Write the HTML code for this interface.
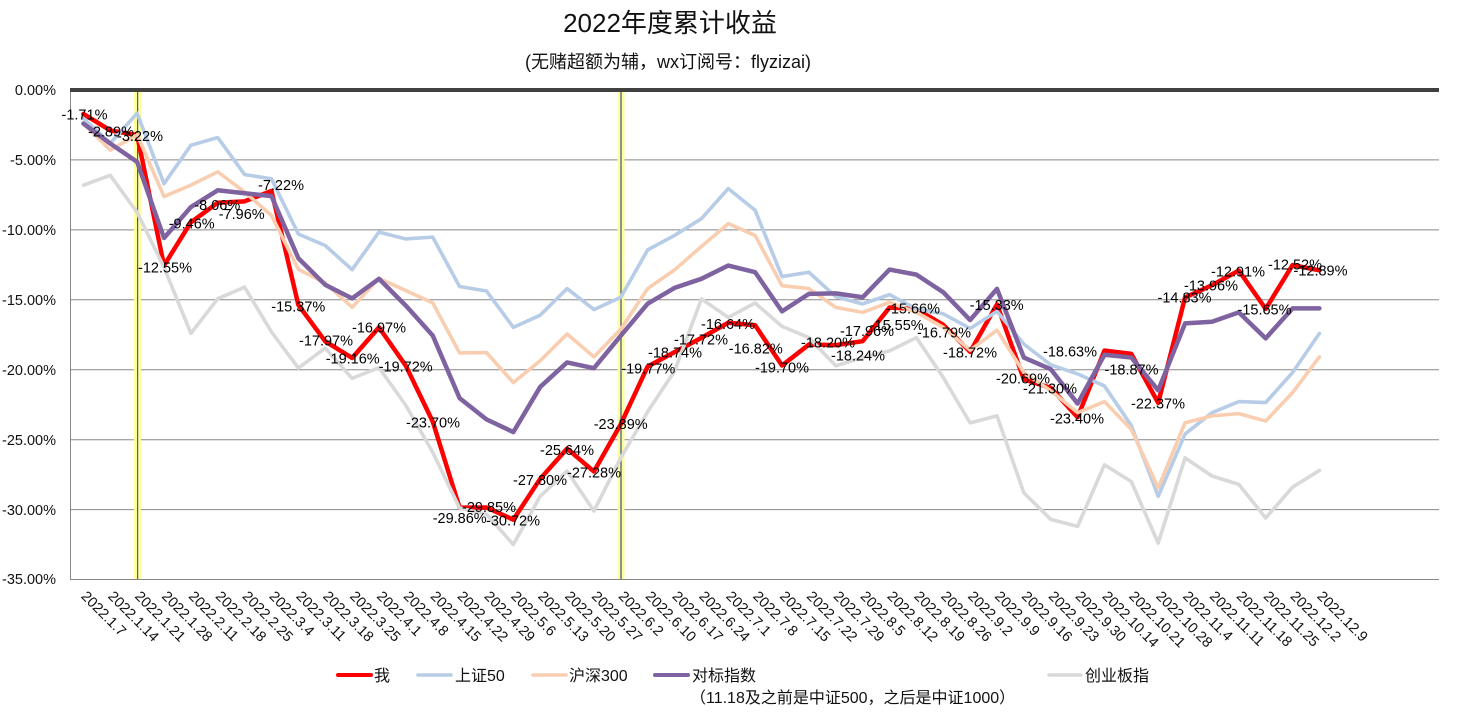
<!DOCTYPE html>
<html><head><meta charset="utf-8"><style>
html,body{margin:0;padding:0;background:#fff;}
svg{display:block;}
.t{font-family:"Liberation Sans","Noto Sans CJK SC",sans-serif;}
</style></head><body>
<svg width="1473" height="713" viewBox="0 0 1473 713" xmlns="http://www.w3.org/2000/svg" class="t" font-family="'Liberation Sans','Noto Sans CJK SC',sans-serif">
<rect width="1473" height="713" fill="#fff"/>
<!-- title -->
<text x="670" y="32" font-size="26" text-anchor="middle" fill="#111">2022年度累计收益</text>
<text x="668" y="68" font-size="18" text-anchor="middle" fill="#111">(无赌超额为辅，wx订阅号：flyzizai)</text>

<!-- gridlines -->
<g stroke="#888" stroke-width="1">
<line x1="70" y1="159.9" x2="1439" y2="159.9"/>
<line x1="70" y1="229.9" x2="1439" y2="229.9"/>
<line x1="70" y1="299.8" x2="1439" y2="299.8"/>
<line x1="70" y1="369.7" x2="1439" y2="369.7"/>
<line x1="70" y1="439.7" x2="1439" y2="439.7"/>
<line x1="70" y1="509.6" x2="1439" y2="509.6"/>
<line x1="70" y1="579.5" x2="1439" y2="579.5"/>
<line x1="70.5" y1="90" x2="70.5" y2="579.5"/>
</g>
<line x1="70" y1="90" x2="1439" y2="90" stroke="#404040" stroke-width="4"/>

<!-- yellow markers -->
<rect x="134" y="92" width="7" height="487" fill="#FFFF9E"/>
<rect x="617.5" y="92" width="7" height="487" fill="#FFFF9E"/>
<line x1="137.6" y1="92" x2="137.6" y2="579" stroke="#3B5BA8" stroke-width="1.2"/>
<line x1="621" y1="92" x2="621" y2="579" stroke="#3B4F80" stroke-width="1.2"/>

<!-- y axis labels -->
<g font-size="14.5" text-anchor="end" fill="#111">
<text x="56" y="95">0.00%</text>
<text x="56" y="165">-5.00%</text>
<text x="56" y="235">-10.00%</text>
<text x="56" y="305">-15.00%</text>
<text x="56" y="375">-20.00%</text>
<text x="56" y="445">-25.00%</text>
<text x="56" y="515">-30.00%</text>
<text x="56" y="584">-35.00%</text>
</g>

<!-- series -->
<g transform="translate(83.4,90) scale(26.87,13.986)" fill="none" stroke-linejoin="round" stroke-linecap="round">
<polyline vector-effect="non-scaling-stroke" stroke="#FF0000" stroke-width="4.5" points="0,1.71 1,2.89 2,3.22 3,12.55 4,9.46 5,8.06 6,7.96 7,7.22 8,15.37 9,17.97 10,19.16 11,16.97 12,19.72 13,23.70 14,29.86 15,29.85 16,30.72 17,27.80 18,25.64 19,27.28 20,23.89 21,19.77 22,18.74 23,17.72 24,16.64 25,16.82 26,19.70 27,18.20 28,18.24 29,17.96 30,15.55 31,15.66 32,16.79 33,18.72 34,15.33 35,20.69 36,21.30 37,23.40 38,18.63 39,18.87 40,22.37 41,14.83 42,13.96 43,12.91 44,15.65 45,12.52 46,12.89"/>
<polyline vector-effect="non-scaling-stroke" stroke="#B7CCE6" stroke-width="3.6" points="0,2.03 1,3.8 2,1.66 3,6.7 4,3.95 5,3.4 6,6.05 7,6.35 8,10.3 9,11.12 10,12.85 11,10.16 12,10.65 13,10.52 14,14.05 15,14.37 16,16.97 17,16.1 18,14.2 19,15.7 20,14.82 21,11.43 22,10.4 23,9.2 24,7.05 25,8.6 26,13.34 27,13.03 28,14.78 29,15.3 30,14.63 31,15.66 32,16.0 33,17.05 34,15.83 35,18.17 36,19.65 37,20.3 38,21.16 39,24.0 40,29.05 41,24.6 42,23.07 43,22.28 44,22.35 45,20.2 46,17.4"/>
<polyline vector-effect="non-scaling-stroke" stroke="#F9CEB0" stroke-width="3.6" points="0,2.4 1,4.3 2,3.2 3,7.62 4,6.8 5,5.85 6,7.3 7,8.97 8,12.82 9,13.8 10,15.54 11,13.47 12,14.34 13,15.22 14,18.8 15,18.77 16,20.92 17,19.36 18,17.45 19,19.08 20,17.1 21,14.2 22,12.86 23,11.19 24,9.56 25,10.4 26,13.99 27,14.2 28,15.54 29,15.9 30,15.18 31,15.9 32,16.97 33,18.6 34,17.17 35,20.2 36,21.5 37,23.07 38,22.28 39,24.27 40,28.45 41,23.79 42,23.3 43,23.14 44,23.67 45,21.64 46,19.08"/>
<polyline vector-effect="non-scaling-stroke" stroke="#7F63A1" stroke-width="4.5" points="0,2.4 1,3.83 2,5.14 3,10.58 4,8.37 5,7.17 6,7.38 7,7.59 8,12.03 9,13.93 10,14.9 11,13.5 12,15.42 13,17.55 14,22.03 15,23.55 16,24.46 17,21.23 18,19.48 19,19.89 20,17.57 21,15.28 22,14.15 23,13.5 24,12.55 25,13.03 26,15.83 27,14.58 28,14.54 29,14.82 30,12.84 31,13.2 32,14.46 33,16.45 34,14.22 35,19.13 36,19.96 37,22.42 38,18.93 39,19.13 40,21.47 41,16.69 42,16.57 43,15.9 44,17.76 45,15.61 46,15.61"/>
<polyline vector-effect="non-scaling-stroke" stroke="#D9D9D9" stroke-width="3.6" points="0,6.81 1,6.1 2,8.75 3,12.68 4,17.4 5,14.92 6,14.1 7,17.3 8,19.88 9,18.45 10,20.62 11,19.85 12,22.55 13,25.9 14,29.89 15,30.33 16,32.5 17,29.05 18,27.25 19,30.1 20,26.3 21,23.0 22,20.1 23,14.94 24,16.26 25,15.23 26,16.9 27,17.7 28,19.72 29,19.13 30,18.65 31,17.7 32,20.56 33,23.8 34,23.3 35,28.8 36,30.7 37,31.2 38,26.8 39,28.0 40,32.4 41,26.3 42,27.6 43,28.2 44,30.6 45,28.4 46,27.2"/>
</g>

<!-- data labels -->
<g font-size="14.5" text-anchor="middle" fill="#000">
<text x="84.5" y="119.3">-1.71%</text>
<text x="111" y="136.7">-2.89%</text>
<text x="140" y="141">-3.22%</text>
<text x="165" y="272.3">-12.55%</text>
<text x="191.7" y="228.3">-9.46%</text>
<text x="217.3" y="210">-8.06%</text>
<text x="241.7" y="219">-7.96%</text>
<text x="281" y="190">-7.22%</text>
<text x="298.3" y="311.7">-15.37%</text>
<text x="326" y="345.7">-17.97%</text>
<text x="352.7" y="363.3">-19.16%</text>
<text x="379" y="332.7">-16.97%</text>
<text x="405.7" y="371.7">-19.72%</text>
<text x="433" y="427.3">-23.70%</text>
<text x="459.7" y="523">-29.86%</text>
<text x="489" y="512">-29.85%</text>
<text x="513" y="525.7">-30.72%</text>
<text x="540" y="485">-27.80%</text>
<text x="567" y="455">-25.64%</text>
<text x="594" y="477.7">-27.28%</text>
<text x="620.7" y="429">-23.89%</text>
<text x="648.3" y="373.7">-19.77%</text>
<text x="675" y="357.7">-18.74%</text>
<text x="701" y="344.3">-17.72%</text>
<text x="728" y="329">-16.64%</text>
<text x="755.8" y="353.3">-16.82%</text>
<text x="782" y="372.3">-19.70%</text>
<text x="828" y="347.3">-18.20%</text>
<text x="858" y="360.3">-18.24%</text>
<text x="867" y="336">-17.96%</text>
<text x="896.7" y="330">-15.55%</text>
<text x="913" y="313.3">-15.66%</text>
<text x="944" y="337.7">-16.79%</text>
<text x="970" y="357.7">-18.72%</text>
<text x="996.7" y="310">-15.33%</text>
<text x="1023" y="383.3">-20.69%</text>
<text x="1050" y="393.3">-21.30%</text>
<text x="1077" y="423.3">-23.40%</text>
<text x="1070" y="356.7">-18.63%</text>
<text x="1131.5" y="374.3">-18.87%</text>
<text x="1158" y="408.3">-22.37%</text>
<text x="1184.5" y="302.3">-14.83%</text>
<text x="1211" y="290.7">-13.96%</text>
<text x="1238" y="276.7">-12.91%</text>
<text x="1264.5" y="314.3">-15.65%</text>
<text x="1295" y="269.3">-12.52%</text>
<text x="1320.5" y="275.7">-12.89%</text>
</g>

<!-- x axis labels -->
<g font-size="14.5" fill="#111">
<text transform="translate(80.4,597) rotate(45)">2022.1.7</text>
<text transform="translate(107.3,597) rotate(45)">2022.1.14</text>
<text transform="translate(134.1,597) rotate(45)">2022.1.21</text>
<text transform="translate(161.0,597) rotate(45)">2022.1.28</text>
<text transform="translate(187.9,597) rotate(45)">2022.2.11</text>
<text transform="translate(214.8,597) rotate(45)">2022.2.18</text>
<text transform="translate(241.6,597) rotate(45)">2022.2.25</text>
<text transform="translate(268.5,597) rotate(45)">2022.3.4</text>
<text transform="translate(295.4,597) rotate(45)">2022.3.11</text>
<text transform="translate(322.2,597) rotate(45)">2022.3.18</text>
<text transform="translate(349.1,597) rotate(45)">2022.3.25</text>
<text transform="translate(376.0,597) rotate(45)">2022.4.1</text>
<text transform="translate(402.8,597) rotate(45)">2022.4.8</text>
<text transform="translate(429.7,597) rotate(45)">2022.4.15</text>
<text transform="translate(456.6,597) rotate(45)">2022.4.22</text>
<text transform="translate(483.5,597) rotate(45)">2022.4.29</text>
<text transform="translate(510.3,597) rotate(45)">2022.5.6</text>
<text transform="translate(537.2,597) rotate(45)">2022.5.13</text>
<text transform="translate(564.1,597) rotate(45)">2022.5.20</text>
<text transform="translate(590.9,597) rotate(45)">2022.5.27</text>
<text transform="translate(617.8,597) rotate(45)">2022.6.2</text>
<text transform="translate(644.7,597) rotate(45)">2022.6.10</text>
<text transform="translate(671.5,597) rotate(45)">2022.6.17</text>
<text transform="translate(698.4,597) rotate(45)">2022.6.24</text>
<text transform="translate(725.3,597) rotate(45)">2022.7.1</text>
<text transform="translate(752.2,597) rotate(45)">2022.7.8</text>
<text transform="translate(779.0,597) rotate(45)">2022.7.15</text>
<text transform="translate(805.9,597) rotate(45)">2022.7.22</text>
<text transform="translate(832.8,597) rotate(45)">2022.7.29</text>
<text transform="translate(859.6,597) rotate(45)">2022.8.5</text>
<text transform="translate(886.5,597) rotate(45)">2022.8.12</text>
<text transform="translate(913.4,597) rotate(45)">2022.8.19</text>
<text transform="translate(940.2,597) rotate(45)">2022.8.26</text>
<text transform="translate(967.1,597) rotate(45)">2022.9.2</text>
<text transform="translate(994.0,597) rotate(45)">2022.9.9</text>
<text transform="translate(1020.9,597) rotate(45)">2022.9.16</text>
<text transform="translate(1047.7,597) rotate(45)">2022.9.23</text>
<text transform="translate(1074.6,597) rotate(45)">2022.9.30</text>
<text transform="translate(1101.5,597) rotate(45)">2022.10.14</text>
<text transform="translate(1128.3,597) rotate(45)">2022.10.21</text>
<text transform="translate(1155.2,597) rotate(45)">2022.10.28</text>
<text transform="translate(1182.1,597) rotate(45)">2022.11.4</text>
<text transform="translate(1208.9,597) rotate(45)">2022.11.11</text>
<text transform="translate(1235.8,597) rotate(45)">2022.11.18</text>
<text transform="translate(1262.7,597) rotate(45)">2022.11.25</text>
<text transform="translate(1289.6,597) rotate(45)">2022.12.2</text>
<text transform="translate(1316.4,597) rotate(45)">2022.12.9</text>
</g>

<!-- legend -->
<g stroke-linecap="round">
<line x1="338" y1="675" x2="371" y2="675" stroke="#FF0000" stroke-width="4"/>
<line x1="418" y1="675" x2="451" y2="675" stroke="#B7CCE6" stroke-width="3.6"/>
<line x1="533" y1="675" x2="566" y2="675" stroke="#F9CEB0" stroke-width="3.6"/>
<line x1="655" y1="675" x2="688" y2="675" stroke="#7F63A1" stroke-width="4"/>
<line x1="1049" y1="675" x2="1081" y2="675" stroke="#D9D9D9" stroke-width="3.6"/>
</g>
<g font-size="16" fill="#111">
<text x="374" y="681">我</text>
<text x="455" y="681">上证50</text>
<text x="569" y="681">沪深300</text>
<text x="692" y="681">对标指数</text>
<text x="1085" y="681">创业板指</text>
<text x="690" y="703">（11.18及之前是中证500，之后是中证1000）</text>
</g>
</svg>
</body></html>
